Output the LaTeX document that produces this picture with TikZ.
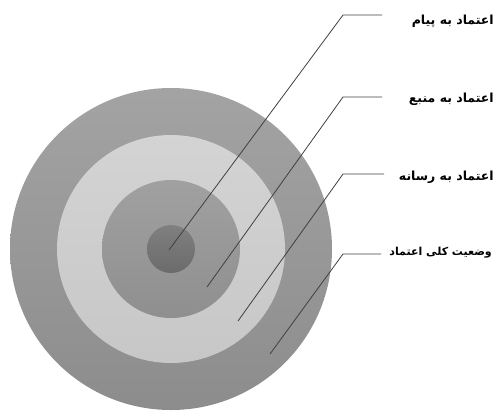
\documentclass[tikz,border=0pt]{standalone}
\usepackage{fontspec}
\newfontfamily\arabicfont[Script=Arabic]{DejaVu Sans}
\TeXXeTstate=1
\begin{document}
\begin{tikzpicture}[x=1pt,y=-1pt,
  ring/.style={circle,inner sep=0pt,draw=none},
  lead/.style={draw=black!75,line width=0.8pt},
  lbl/.style={anchor=east,inner sep=0pt,font=\arabicfont\bfseries\fontsize{12.5}{14}\selectfont,text=black},
  lblsmall/.style={anchor=east,inner sep=0pt,font=\arabicfont\bfseries\fontsize{11}{13}\selectfont,text=black}]
\useasboundingbox (0,0) rectangle (497,418);
\shade[top color=black!36,bottom color=black!45] (171,249) circle (161);
\shade[top color=black!17,bottom color=black!22] (171,249) circle (114);
\shade[top color=black!37,bottom color=black!44] (171,249) circle (69);
\shade[top color=black!50,bottom color=black!58] (171,249) circle (24);
\coordinate (p1) at (169,250);
\coordinate (p2) at (207,287);
\coordinate (p3) at (238,321);
\coordinate (p4) at (270,354);
\coordinate (e1) at (343,15);
\coordinate (e2) at (343,97);
\coordinate (e3) at (343,174);
\coordinate (e4) at (343,254);
\coordinate (h1) at (382,15);
\coordinate (h2) at (382,97);
\coordinate (h3) at (384,174);
\coordinate (h4) at (381,254);
\draw[lead] (p1) -- (e1) -- (h1);
\draw[lead] (p2) -- (e2) -- (h2);
\draw[lead] (p3) -- (e3) -- (h3);
\draw[lead] (p4) -- (e4) -- (h4);
\node[lbl] (t1) at (494,21) {\beginR اعتماد به پیام\endR};
\node[lbl] (t2) at (494,99) {\beginR اعتماد به منبع\endR};
\node[lbl] (t3) at (494,177) {\beginR اعتماد به رسانه\endR};
\node[lblsmall] (t4) at (492,253) {\beginR وضعیت کلی اعتماد\endR};
\end{tikzpicture}
\end{document}
